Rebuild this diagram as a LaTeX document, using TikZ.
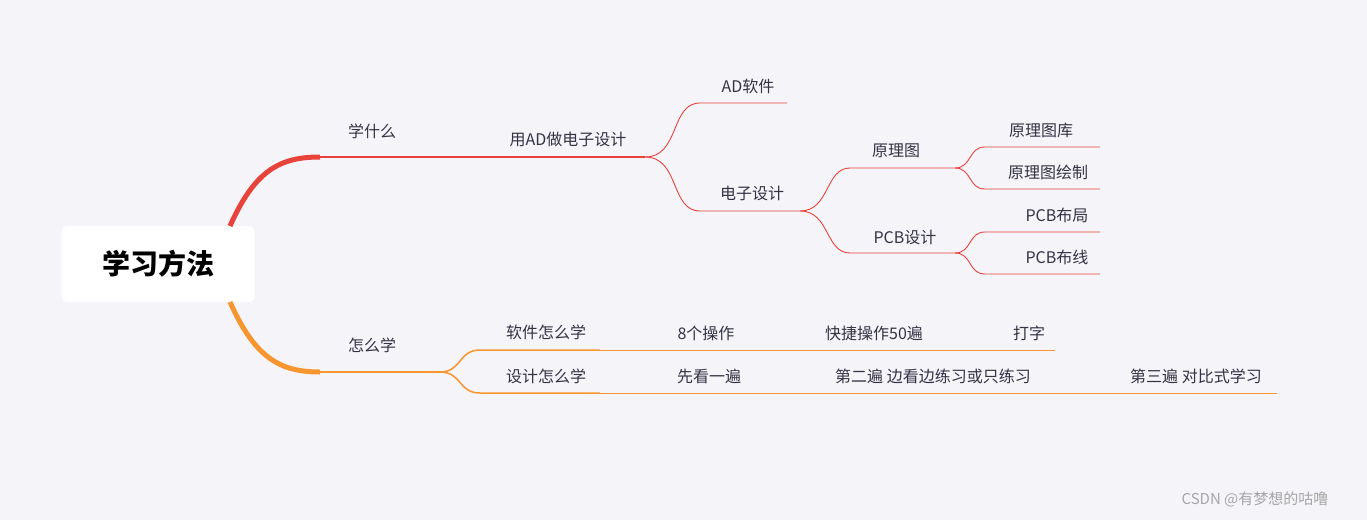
\documentclass[tikz,border=0pt]{standalone}
\usepackage{fontspec}
\newfontfamily\cjk{Noto Sans CJK SC}
\definecolor{bg}{HTML}{F5F4F9}
\definecolor{rd}{HTML}{E8433A}
\definecolor{og}{HTML}{F7952F}
\definecolor{tx}{HTML}{333344}
\begin{document}
\begin{tikzpicture}[x=1pt,y=-1pt,
  lbl/.style={font=\cjk\fontsize{16}{18}\selectfont,text=tx,inner sep=0pt},
  rl/.style={draw=rd,line width=0.9pt},
  ol/.style={draw=og,line width=0.9pt}]
\fill[bg] (0,0) rectangle (1367,520);
\useasboundingbox (0,0) rectangle (1367,520);
\node[fill=white,rounded corners=6pt,minimum width=193pt,minimum height=76pt,font=\cjk\bfseries\fontsize{28}{30}\selectfont,text=black] (root) at (158,264) {学习方法};
% coordinates
\coordinate (r0) at (230,226); \coordinate (r1) at (320,157); \coordinate (r2) at (645,157);
\coordinate (o0) at (230,302); \coordinate (o1) at (320,372); \coordinate (o2) at (440,372);
\draw[rd,line width=5pt] (r0) .. controls (255,170) and (280,157) .. (r1);
\draw[rd,line width=2.5pt] (r1) -- (r2);
\draw[og,line width=5pt] (o0) .. controls (255,358) and (280,372) .. (o1);
\draw[og,line width=2pt] (o1) -- (o2);
\node[lbl] (a) at (372,131) {学什么};
\node[lbl] (b) at (568,139) {用AD做电子设计};
\node[lbl] (c) at (372,345) {怎么学};
% level 2 red
\coordinate (ad0) at (700,103); \coordinate (ad1) at (787,103);
\coordinate (ed0) at (700,211); \coordinate (ed1) at (800,211);
\draw[rl] (r2) .. controls (680,157) and (670,103) .. (ad0) -- (ad1);
\draw[rl] (r2) .. controls (680,157) and (670,211) .. (ed0) -- (ed1);
\node[lbl] (n1) at (748,86) {AD软件};
\node[lbl] (n2) at (752,193) {电子设计};
\coordinate (yl0) at (850,168); \coordinate (yl1) at (955,168);
\coordinate (pc0) at (850,253); \coordinate (pc1) at (955,253);
\draw[rl] (ed1) .. controls (830,211) and (825,168) .. (yl0) -- (yl1);
\draw[rl] (ed1) .. controls (830,211) and (825,253) .. (pc0) -- (pc1);
\node[lbl] (n3) at (896,151) {原理图};
\node[lbl] (n4) at (905,237) {PCB设计};
\coordinate (k1) at (985,147); \coordinate (k2) at (985,189);
\coordinate (k3) at (985,232); \coordinate (k4) at (985,274);
\draw[rl] (yl1) .. controls (972,168) and (968,147) .. (k1) -- (1100,147);
\draw[rl] (yl1) .. controls (972,168) and (968,189) .. (k2) -- (1100,189);
\draw[rl] (pc1) .. controls (972,253) and (968,232) .. (k3) -- (1100,232);
\draw[rl] (pc1) .. controls (972,253) and (968,274) .. (k4) -- (1100,274);
\node[lbl] (n5) at (1041,130) {原理图库};
\node[lbl] (n6) at (1048,172) {原理图绘制};
\node[lbl] (n7) at (1057,215) {PCB布局};
\node[lbl] (n8) at (1057,257) {PCB布线};
% orange
\coordinate (s0) at (480,350); \coordinate (s1) at (600,350); \coordinate (s2) at (1055,350);
\coordinate (d0) at (480,393); \coordinate (d1) at (600,393); \coordinate (d2) at (1277,393);
\draw[og,line width=1.5pt] (o2) .. controls (462,372) and (458,350) .. (s0) -- (s1);
\draw[og,line width=1.5pt] (o2) .. controls (462,372) and (458,393) .. (d0) -- (d1);
\draw[ol] (s1) -- (s2);
\draw[ol] (d1) -- (d2);
\node[lbl] (m1) at (546,332) {软件怎么学};
\node[lbl] (m2) at (546,376) {设计怎么学};
\node[lbl] (m3) at (706,333) {8个操作};
\node[lbl] (m4) at (874,333) {快捷操作50遍};
\node[lbl] (m5) at (1029,333) {打字};
\node[lbl] (m6) at (709,376) {先看一遍};
\node[lbl] (m7) at (933,376) {第二遍 边看边练习或只练习};
\node[lbl] (m8) at (1196,376) {第三遍 对比式学习};
\node[font=\cjk\fontsize{15}{17}\selectfont,text=gray!70,inner sep=0pt] (w) at (1255,499) {CSDN @有梦想的咕噜};
\end{tikzpicture}
\end{document}
